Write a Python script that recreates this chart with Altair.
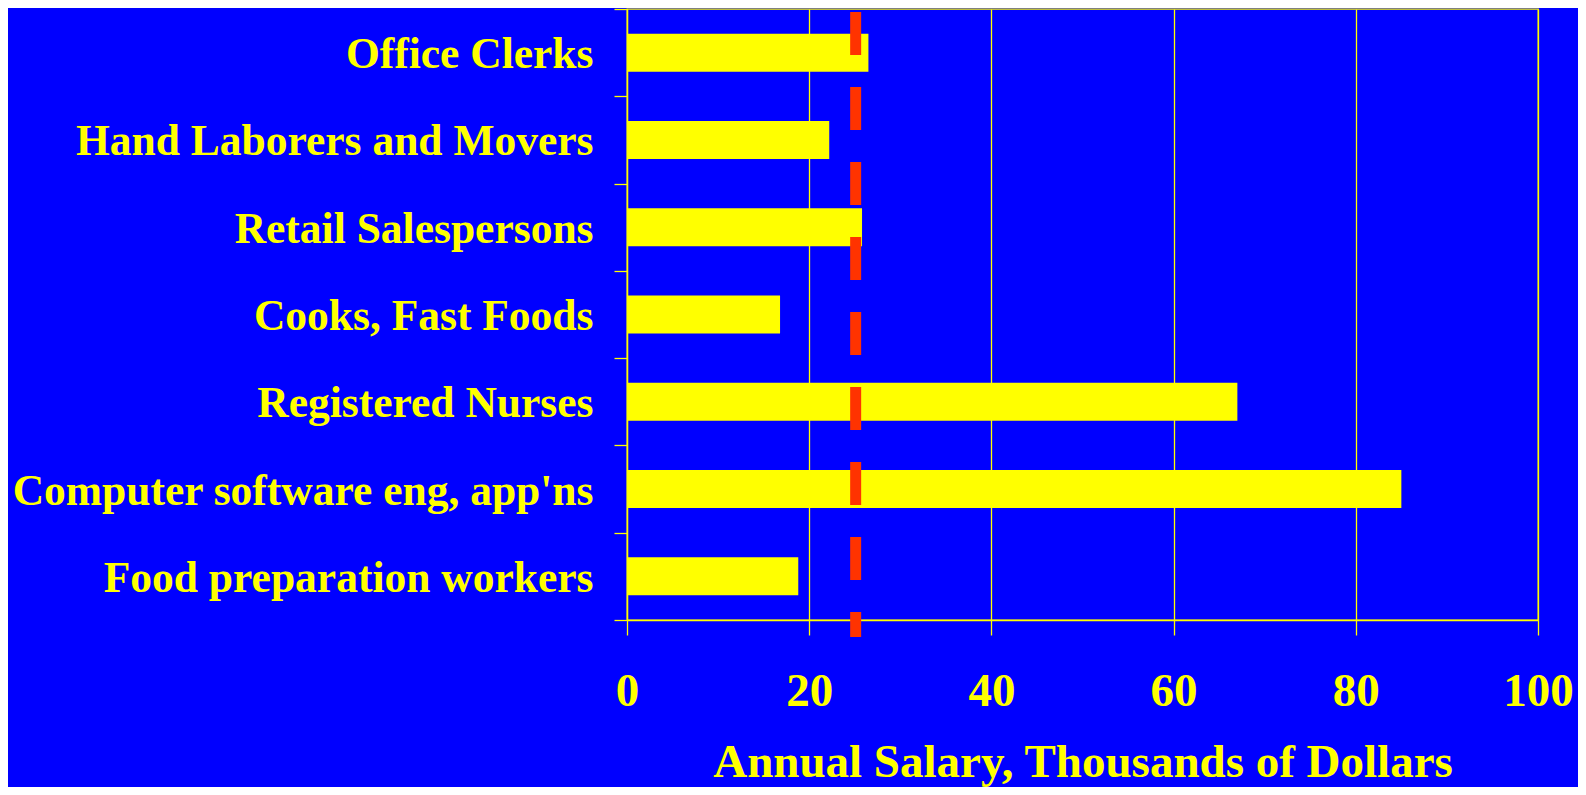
import altair as alt
import pandas as pd

occupations = [
    "Office Clerks",
    "Hand Laborers and Movers",
    "Retail Salespersons",
    "Cooks, Fast Foods",
    "Registered Nurses",
    "Computer software eng, app'ns",
    "Food preparation workers",
]
salaries = [26.5, 22.2, 25.8, 16.8, 67.0, 85.0, 18.8]
reference_salary = [25.1]
x_ticks = [0, 20, 40, 60, 80, 100]

df = pd.DataFrame({"occupation": occupations, "salary": salaries})
ref = pd.DataFrame({"salary": reference_salary})

YELLOW = "#FFFF00"
BLUE = "#0000FF"
RED = "#FF3300"
FONT = "Liberation Serif"

x_scale = alt.Scale(domain=[0, 100], nice=False, zero=True)

bars = alt.Chart(df).mark_bar(color=YELLOW, size=38).encode(
    x=alt.X(
        "salary:Q",
        scale=x_scale,
        axis=alt.Axis(
            values=x_ticks,
            title="Annual Salary, Thousands of Dollars",
            grid=True,
            gridColor=YELLOW,
            gridWidth=1.3,
            gridOpacity=1,
            domainColor=YELLOW,
            domainWidth=1.3,
            tickColor=YELLOW,
            tickSize=15,
            tickWidth=1.3,
            labelColor=YELLOW,
            labelFont=FONT,
            labelFontSize=47,
            labelFontWeight="bold",
            labelBaseline="alphabetic",
            labelPadding=70,
            labelOverlap=False,
            labelFlush=False,
            titleColor=YELLOW,
            titleFont=FONT,
            titleFontSize=47,
            titleFontWeight="bold",
            titleBaseline="alphabetic",
            titleY=156,
        ),
    ),
    y=alt.Y(
        "occupation:N",
        sort=occupations,
        scale=alt.Scale(paddingInner=0, paddingOuter=0),
        axis=alt.Axis(
            title=None,
            tickBand="extent",
            grid=False,
            domainColor=YELLOW,
            domainWidth=1.3,
            tickColor=YELLOW,
            tickSize=13,
            tickWidth=1.3,
            labelColor=YELLOW,
            labelFont=FONT,
            labelFontSize=43.5,
            labelFontWeight="bold",
            labelPadding=21,
            labelLimit=1000,
            labelOffset=2,
        ),
    ),
)

rule = alt.Chart(ref).mark_rule(
    color=RED, strokeWidth=11, strokeDash=[43, 32], strokeCap="butt"
).encode(
    x=alt.X("salary:Q", scale=x_scale),
    y=alt.value(3),
    y2=alt.value(628),
)

chart = (
    alt.layer(bars, rule)
    .properties(
        width=911,
        height=611,
        autosize="none",
        padding={"left": 619, "top": 1, "right": 40, "bottom": 167},
        background=BLUE,
    )
    .configure_view(stroke=YELLOW, strokeWidth=1.3)
)

chart.save("out.html", embed_options={"renderer": "svg", "actions": False})
